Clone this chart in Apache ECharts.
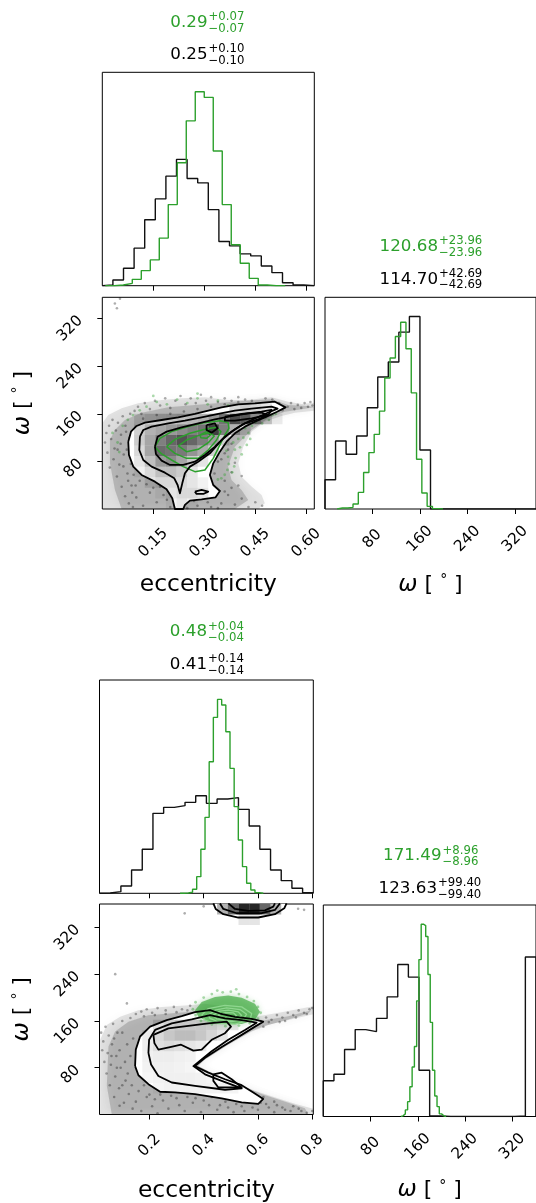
<!DOCTYPE html>
<html><head><meta charset="utf-8">
<script src="https://cdn.jsdelivr.net/npm/echarts@6/dist/echarts.min.js"></script>
<style>html,body{margin:0;padding:0;background:#fff}#c{width:536px;height:1203px}</style>
</head><body><div id="c"></div>
<script>
// ================= DATA =================
const GREEN = '#2ca02c';
// tick labels
const eccTicksTop = [0.15, 0.30, 0.45, 0.60];
const eccTicksBot = [0.2, 0.4, 0.6, 0.8];
const omegaTicks = [80, 160, 240, 320];
// axis ranges
const topEccRange = [0, 0.6235];
const topOmRange = [0.6, 355.3];
const botEccRange = [0.016, 0.804];
const botOmRange = [0, 360];
// titles [median, plus, minus]
const tTopEccG = ['0.29', '+0.07', '\u22120.07'];
const tTopEccK = ['0.25', '+0.10', '\u22120.10'];
const tTopOmG = ['120.68', '+23.96', '\u221223.96'];
const tTopOmK = ['114.70', '+42.69', '\u221242.69'];
const tBotEccG = ['0.48', '+0.04', '\u22120.04'];
const tBotEccK = ['0.41', '+0.14', '\u22120.14'];
const tBotOmG = ['171.49', '+8.96', '\u22128.96'];
const tBotOmK = ['123.63', '+99.40', '\u221299.40'];

// 1D histograms: [range], counts
const hTopEccKRange = [0, 0.6235];
const hTopEccK = [2, 17, 52, 112, 197, 259, 327, 377, 320, 307, 227, 132, 119, 95, 89, 59, 39, 9, 2, 0];
const hTopEccGRange = [0.0088, 0.538];
const hTopEccG = [0, 2, 7, 19, 45, 77, 142, 242, 367, 492, 579, 562, 402, 242, 122, 67, 22, 2, 0, 0];
const hTopOmKRange = [0.6, 355.3];
const hTopOmK = [88, 205, 165, 220, 305, 398, 443, 533, 580, 178, 0, 0, 0, 0, 0, 0, 0, 0, 0, 0];
const hTopOmGRange = [21.0, 199.0];
const hTopOmG = [3, 3, 5, 15, 50, 110, 170, 225, 295, 395, 455, 520, 563, 483, 350, 150, 48, 8, 1, 0];
const hBotEccKRange = [0.016, 0.804];
const hBotEccK = [1, 5, 22, 70, 132, 240, 258, 263, 273, 293, 270, 283, 287, 252, 202, 132, 70, 38, 15, 2];
const hBotEccGRange = [0.3129, 0.6197];
const hBotEccG = [0, 1, 3, 12, 50, 132, 228, 395, 528, 582, 565, 485, 375, 260, 160, 80, 30, 10, 2, 0];
const hBotOmKRange = [0, 360];
const hBotOmK = [108, 128, 203, 263, 257, 297, 362, 460, 422, 140, 2, 0, 0, 0, 0, 0, 0, 0, 2, 483];
const hBotOmGRange = [131.2, 207.8];
const hBotOmG = [2, 8, 20, 45, 90, 150, 212, 350, 475, 582, 578, 545, 430, 285, 140, 62, 30, 8, 2, 0];

// ---- top 2D panel (eccentricity, omega) ----
const topC1 = [[0.0764,113.4],[0.0843,130.2],[0.1009,139.7],[0.1254,145.3],[0.1744,149.7],[0.2234,154.2],[0.2724,159.8],[0.3116,165.4],[0.3508,170.9],[0.3998,176.0],[0.4488,177.6],[0.5076,180.4],[0.539,170.9],[0.5125,163.1],[0.4831,155.3],[0.4488,146.9],[0.4194,138.6],[0.390,127.4],[0.3655,113.4],[0.3459,96.7],[0.3263,77.1],[0.3165,57.6],[0.3263,40.8],[0.3459,30.8],[0.3332,20.2],[0.292,16.9],[0.2577,14.6],[0.243,7.4],[0.238,0.6],[0.2136,0.6],[0.2058,18.5],[0.189,33.6],[0.1548,46.4],[0.1156,57.6],[0.0911,71.6],[0.0784,91.1]];
const topC2 = [[0.1107,121.8],[0.1205,133.0],[0.145,138.6],[0.194,144.1],[0.243,148.6],[0.292,154.2],[0.341,159.8],[0.390,165.4],[0.439,168.7],[0.498,172.1],[0.5155,168.7],[0.478,159.8],[0.439,149.7],[0.410,141.3],[0.380,130.2],[0.351,116.2],[0.3165,93.9],[0.282,79.9],[0.2577,71.6],[0.243,60.4],[0.2352,43.6],[0.2283,26.9],[0.2215,40.8],[0.2117,52.0],[0.1842,61.5],[0.145,71.6],[0.1205,82.7],[0.1088,99.5]];
const topC3 = [[0.1548,105.1],[0.1627,121.8],[0.1891,130.2],[0.2332,137.5],[0.2822,144.1],[0.3312,150.8],[0.380,156.4],[0.429,160.9],[0.468,162.0],[0.488,158.1],[0.4586,150.8],[0.4194,144.1],[0.390,134.1],[0.3606,121.8],[0.3312,105.1],[0.3018,91.1],[0.2724,79.9],[0.238,74.4],[0.199,74.4],[0.1744,81.6],[0.1577,92.8]];
const topC4a = [[0.3606,155.3],[0.410,159.8],[0.468,163.7],[0.4978,166.5],[0.488,158.1],[0.439,152.5],[0.390,148.6],[0.3606,148.6]];
const topC4b = [[0.3067,141.3],[0.3312,144.1],[0.3391,135.8],[0.3214,128.5],[0.3067,133.0]];
const topC4c = [[0.2724,29.7],[0.292,32.5],[0.3116,29.7],[0.2969,25.8],[0.2773,25.8]];
const topG1 = [[0.1548,105.1],[0.1695,119.0],[0.2038,130.2],[0.2528,138.6],[0.3018,145.3],[0.3459,148.6],[0.370,145.3],[0.3724,135.8],[0.3606,124.6],[0.3459,107.9],[0.3263,85.5],[0.3018,66.0],[0.2724,63.2],[0.238,71.6],[0.2038,82.7],[0.1744,92.8]];
const topG2 = [[0.1891,105.1],[0.2136,117.3],[0.2577,127.4],[0.3018,134.1],[0.3361,137.5],[0.3489,130.2],[0.3361,116.2],[0.3116,99.5],[0.2822,85.5],[0.2479,85.5],[0.2136,93.9]];
const topG3 = [[0.2234,106.2],[0.2479,116.2],[0.2822,123.5],[0.3165,128.5],[0.3293,122.9],[0.3116,111.8],[0.2822,100.6],[0.2479,96.7]];
const topG4 = [[0.2871,124.6],[0.3067,130.2],[0.3214,126.3],[0.3067,119.0],[0.2900,120.1]];
// envelope of the black sample cloud (outer, dense core)
const topCloudOuter = [[0.0,144.1],[0.0176,158.1],[0.0568,169.3],[0.1058,177.6],[0.1744,183.2],[0.2332,186.0],[0.3018,187.7],[0.370,183.2],[0.429,183.2],[0.4978,187.7],[0.5468,180.4],[0.586,176.5],[0.6235,178.7],[0.6235,165.4],[0.5664,162.0],[0.5272,156.4],[0.478,146.9],[0.439,130.2],[0.4145,105.1],[0.400,77.1],[0.4096,54.8],[0.439,38.1],[0.4684,24.1],[0.478,10.1],[0.4586,0.6],[0.0,0.6]];
const topCloudInner = [[0.0225,116.2],[0.0372,133.0],[0.0666,149.7],[0.1156,162.0],[0.194,170.9],[0.2724,174.8],[0.3508,178.8],[0.4194,182.1],[0.4978,184.3],[0.5468,174.8],[0.6056,173.2],[0.6235,170.9],[0.586,167.6],[0.537,163.7],[0.488,152.5],[0.439,133.0],[0.390,105.1],[0.370,71.6],[0.3802,49.2],[0.4096,32.5],[0.4292,15.7],[0.390,0.6],[0.0568,0.6],[0.0372,32.5],[0.0225,77.1]];
const topPtsK = [[0.008,112],[0.012,128],[0.015,95],[0.02,140],[0.022,70],[0.026,118],[0.03,150],[0.033,84],[0.036,102],[0.04,132],[0.043,55],[0.046,145],[0.05,75],[0.054,110],[0.057,38],[0.06,156],[0.063,92],[0.067,22],[0.07,130],[0.074,60],[0.078,10],[0.082,160],[0.086,40],[0.09,4],[0.095,165],[0.105,172],[0.115,160],[0.125,178],[0.14,168],[0.155,182],[0.17,174],[0.185,186],[0.2,170],[0.215,182],[0.23,190],[0.245,176],[0.26,186],[0.275,178],[0.29,192],[0.305,182],[0.32,188],[0.34,180],[0.36,186],[0.38,182],[0.4,188],[0.42,184],[0.5,184],[0.52,178],[0.545,172],[0.555,178],[0.565,168],[0.575,175],[0.585,170],[0.595,178],[0.605,172],[0.612,180],[0.618,174],[0.53,166],[0.1,20],[0.12,6],[0.14,28],[0.16,12],[0.18,24],[0.2,4],[0.26,28],[0.28,6],[0.3,22],[0.32,4],[0.35,10],[0.37,24],[0.39,8],[0.41,18],[0.43,4],[0.45,12],[0.47,6],[0.36,48],[0.38,62],[0.35,84],[0.37,100],[0.39,78],[0.41,56],[0.4,40],[0.037,345],[0.052,353],[0.043,337],
[0.045,100],[0.055,125],[0.062,72],[0.068,140],[0.072,100],[0.076,48],[0.08,120],[0.084,76],[0.088,28],[0.092,58],[0.098,40],[0.11,48],[0.13,42],[0.15,36],[0.17,38],[0.19,16],[0.21,30],[0.22,10],[0.24,22],[0.25,2],[0.27,14],[0.29,30],[0.31,12],[0.33,26],[0.34,2],[0.36,30],[0.38,36],[0.12,152],[0.16,158],[0.2,160],[0.24,164],[0.28,168],[0.32,172],[0.36,176],[0.4,180],[0.44,182],[0.48,186],[0.33,60],[0.34,80],[0.36,94],[0.38,110]];
const topPtsG = [[0.352,120],[0.36,110],[0.365,98],[0.37,88],[0.372,76],[0.368,66],[0.36,58],[0.35,52],[0.34,50],[0.38,124],[0.385,112],[0.39,100],[0.392,86],[0.388,72],[0.382,62],[0.395,130],[0.4,118],[0.405,104],[0.41,92],[0.415,120],[0.42,136],[0.43,128],[0.44,140],[0.45,146],[0.46,150],[0.47,144],[0.48,154],[0.49,150],[0.5,158],[0.51,160],[0.425,108],[0.435,118],[0.03,128],[0.045,112],[0.06,140],[0.075,150],[0.09,158],[0.05,96],[0.11,166],[0.13,172],[0.16,180],[0.19,176],[0.22,184],[0.25,178],[0.28,186],[0.31,176],[0.34,182],[0.37,174],[0.39,168],[0.15,190],[0.28,194]];
// 2D histogram shading: [xBin, yBin, darkness]
const topDens = [[12,9,0.15],[13,9,0.2],[14,9,0.15],[15,9,0.1],
[3,8,0.12],[4,8,0.18],[5,8,0.2],[6,8,0.22],[7,8,0.25],[8,8,0.28],[9,8,0.3],[10,8,0.4],[11,8,0.55],[12,8,0.7],[13,8,0.65],[14,8,0.45],[15,8,0.25],[16,8,0.08],
[3,7,0.18],[4,7,0.3],[5,7,0.35],[6,7,0.4],[7,7,0.45],[8,7,0.5],[9,7,0.55],[10,7,0.75],[11,7,0.5],[12,7,0.3],[13,7,0.12],
[3,6,0.2],[4,6,0.35],[5,6,0.5],[6,6,0.6],[7,6,0.68],[8,6,0.6],[9,6,0.5],[10,6,0.38],[11,6,0.18],
[3,5,0.15],[4,5,0.35],[5,5,0.58],[6,5,0.55],[7,5,0.52],[8,5,0.42],[9,5,0.32],[10,5,0.18],
[3,4,0.1],[4,4,0.25],[5,4,0.4],[6,4,0.45],[7,4,0.35],[8,4,0.2],[9,4,0.1],
[3,3,0.06],[4,3,0.15],[5,3,0.25],[6,3,0.25],[7,3,0.2],[8,3,0.1],
[4,2,0.1],[5,2,0.15],[6,2,0.15],[7,2,0.15],[8,2,0.1],[9,2,0.05],
[5,1,0.05],[6,1,0.1],[7,1,0.15],[8,1,0.15],[9,1,0.1],
[6,0,0.05],[7,0,0.1],[8,0,0.05]];

// ---- bottom 2D panel ----
const botC1 = [[0.1472,82.8],[0.1497,110.9],[0.1656,133.4],[0.2025,150.3],[0.2638,161.5],[0.319,168.2],[0.368,175.0],[0.4233,178.4],[0.4601,172.7],[0.5153,167.1],[0.5767,163.7],[0.6196,158.7],[0.589,150.3],[0.540,136.2],[0.4663,115.4],[0.405,96.9],[0.368,82.8],[0.4172,71.6],[0.4785,60.3],[0.540,50.2],[0.5828,37.8],[0.6196,26.6],[0.6012,18.2],[0.540,20.9],[0.4663,27.7],[0.368,35.0],[0.2945,37.8],[0.2393,38.9],[0.1963,51.9],[0.1595,67.1]];
const botC2 = [[0.1963,105.3],[0.1988,127.8],[0.2209,144.6],[0.2822,155.9],[0.3558,162.6],[0.4233,169.9],[0.4785,164.3],[0.540,161.5],[0.5951,157.0],[0.5522,144.6],[0.4908,127.8],[0.4295,108.1],[0.362,82.8],[0.4049,68.7],[0.4663,57.5],[0.540,44.6],[0.4785,42.3],[0.368,49.1],[0.2822,54.7],[0.2331,65.9],[0.2061,85.6]];
const botC3a = [[0.2147,136.2],[0.2699,147.4],[0.3436,151.4],[0.4172,155.9],[0.4847,158.7],[0.5006,150.3],[0.4785,139.0],[0.4295,127.8],[0.3926,110.9],[0.362,109.2],[0.3166,119.3],[0.2761,115.4],[0.2331,110.9],[0.2184,122.1]];
const botC3b = [[0.4356,68.7],[0.4663,71.6],[0.5031,60.3],[0.540,46.3],[0.454,46.3],[0.4356,57.5]];
// contours of the wrapped mode at the top edge (open, cut by the frame)
const botTopC1 = [[0.4356,361],[0.4442,351.5],[0.4724,342.5],[0.5276,336.9],[0.6012,336.9],[0.6626,342.5],[0.697,352.6],[0.7055,361]];
const botTopC2 = [[0.4601,361],[0.4724,351.5],[0.5215,344.2],[0.6135,344.2],[0.6626,349.8],[0.681,361]];
const botTopC3 = [[0.4908,361],[0.5153,351.5],[0.5644,348.1],[0.6258,349.2],[0.6564,355.4],[0.6626,361]];
const botG1 = [[0.3926,169.9],[0.4172,181.2],[0.4785,186.8],[0.540,184.0],[0.5767,172.7],[0.5706,161.5],[0.5153,154.7],[0.4417,155.9],[0.4049,161.5]];
const botG2 = [[0.4172,169.9],[0.4417,178.4],[0.4847,182.3],[0.5337,179.5],[0.5583,171.6],[0.546,162.6],[0.5031,158.7],[0.4479,159.8],[0.4233,164.3]];
const botG3 = [[0.4356,169.9],[0.4601,176.7],[0.4908,178.4],[0.5276,175.6],[0.5399,169.4],[0.5215,162.6],[0.4847,160.9],[0.4479,163.7]];
const botG4 = [[0.454,169.9],[0.4785,174.4],[0.5092,173.9],[0.5215,168.8],[0.5031,164.3],[0.4724,164.9]];
const botGreenCloud = [[0.368,178.4],[0.3926,192.4],[0.4417,200.8],[0.4908,203.6],[0.540,199.7],[0.589,189.6],[0.6074,175.6],[0.589,161.5],[0.540,154.7],[0.4785,154.7],[0.4172,158.7],[0.3804,167.1]];
const botCloudOuter = [[0.0184,127.8],[0.0429,153.1],[0.092,167.1],[0.1595,178.4],[0.2454,184.0],[0.3436,186.8],[0.405,189.6],[0.4908,184.0],[0.6012,168.2],[0.6871,175.0],[0.7607,181.2],[0.8037,185.1],[0.8037,171.6],[0.7362,164.3],[0.6626,155.9],[0.6196,151.4],[0.5767,143.5],[0.5153,127.8],[0.4417,105.3],[0.368,82.8],[0.4295,68.7],[0.5153,54.7],[0.589,40.6],[0.6503,31.1],[0.7362,18.2],[0.8037,9.7],[0.8037,0],[0.0184,0]];
const botCloudInner = [[0.0491,116.5],[0.0736,141.8],[0.1227,158.7],[0.1963,169.9],[0.3068,173.9],[0.405,177.3],[0.5153,169.9],[0.6135,160.4],[0.7117,168.2],[0.7976,178.4],[0.7853,172.7],[0.7117,162.6],[0.638,153.1],[0.5767,141.8],[0.4908,119.3],[0.405,94.0],[0.3804,82.8],[0.454,65.9],[0.540,49.1],[0.6135,35.0],[0.6871,23.8],[0.773,10.8],[0.7853,0],[0.0614,0],[0.0429,49.1]];
const botPtsK = [[0.022,140],[0.026,110],[0.03,125],[0.034,90],[0.038,150],[0.042,70],[0.046,105],[0.05,135],[0.054,50],[0.058,85],[0.062,120],[0.066,155],[0.07,30],[0.074,65],[0.078,100],[0.082,140],[0.088,45],[0.094,80],[0.1,160],[0.106,20],[0.112,58],[0.118,120],[0.124,35],[0.13,165],[0.138,10],[0.15,172],[0.17,176],[0.19,180],[0.21,174],[0.23,182],[0.26,178],[0.29,184],[0.32,180],[0.35,186],[0.15,22],[0.17,6],[0.19,30],[0.21,14],[0.23,2],[0.25,24],[0.27,10],[0.3,28],[0.33,6],[0.36,20],[0.39,4],[0.42,16],[0.45,8],[0.48,22],[0.51,4],[0.54,14],[0.57,24],[0.6,8],[0.63,18],[0.66,4],[0.69,12],[0.72,6],[0.75,10],[0.78,3],[0.8,6],[0.62,30],[0.66,22],[0.61,160],[0.63,166],[0.65,162],[0.67,170],[0.69,166],[0.71,174],[0.73,170],[0.75,178],[0.77,174],[0.79,180],[0.8,182],[0.68,158],[0.074,240],[0.117,190],[0.33,344],[0.4,356],[0.748,352],[0.77,350],
[0.06,100],[0.07,130],[0.08,80],[0.09,110],[0.1,140],[0.11,90],[0.12,70],[0.13,100],[0.135,50],[0.14,130],[0.1,50],[0.09,15],[0.16,40],[0.18,50],[0.2,34],[0.22,26],[0.24,34],[0.28,32],[0.31,16],[0.34,30],[0.37,28],[0.4,24],[0.43,30],[0.46,16],[0.49,12],[0.52,18],[0.55,6],[0.58,12],[0.61,20],[0.64,12],[0.67,16],[0.7,8],[0.73,14],[0.76,6],[0.62,150],[0.64,158],[0.7,160],[0.74,166],[0.78,172],[0.18,168],[0.22,170],[0.26,172],[0.3,175],[0.34,178]];
const botPtsG = [[0.36,180],[0.37,192],[0.4,200],[0.43,206],[0.47,209],[0.5,210],[0.53,206],[0.56,201],[0.585,194],[0.6,184],[0.61,174],[0.6,164],[0.57,156],[0.53,152],[0.48,151],[0.43,154],[0.39,160],[0.37,170],[0.45,212],[0.52,214]];
const botDens = [[5,8,0.12],[6,8,0.18],[7,8,0.22],[8,8,0.22],[9,8,0.22],[10,8,0.2],[11,8,0.15],[12,8,0.1],
[4,7,0.08],[5,7,0.15],[6,7,0.22],[7,7,0.26],[8,7,0.26],[9,7,0.22],[10,7,0.16],[11,7,0.1],
[4,6,0.07],[5,6,0.12],[6,6,0.14],[7,6,0.12],[8,6,0.1],[9,6,0.08],
[4,5,0.06],[5,5,0.07],[6,5,0.07],[7,5,0.06],[8,5,0.05],
[4,4,0.05],[5,4,0.06],[6,4,0.06],[7,4,0.05],[8,4,0.04],
[4,3,0.04],[5,3,0.05],[6,3,0.06],[7,3,0.06],[8,3,0.06],[9,3,0.05],[10,3,0.04],
[5,2,0.04],[6,2,0.05],[7,2,0.05],[8,2,0.05],[9,2,0.05],[10,2,0.05],[11,2,0.05],[12,2,0.04],
[11,19,0.3],[12,19,0.6],[13,19,0.85],[14,19,0.85],[15,19,0.6],[16,19,0.3],[13,18,0.1],[14,18,0.1]];

// ================= BUILD =================
const FONT = 'DejaVu Sans';
const TICKFONT = 15.3;
const grids = [
  {left:102.3, top:72.3, width:212, height:213.4},
  {left:102.3, top:297.3, width:212, height:211.7},
  {left:325, top:297.3, width:212, height:211.7},
  {left:99.5, top:680, width:213.8, height:213.3},
  {left:99.5, top:904, width:213.8, height:212.7},
  {left:323.3, top:905, width:213.3, height:211.7}
].map(g => Object.assign({show:true, borderColor:'#000', borderWidth:1, backgroundColor:'transparent'}, g));

const tick = vals => ({show:true, customValues:vals, length:5, inside:false, lineStyle:{color:'#000', width:1}});
const xlab = (vals, dec, margin) => ({show:true, customValues:vals, rotate:45, align:'center', verticalAlign:'middle', margin, fontSize:TICKFONT, color:'#000', fontFamily:FONT, formatter:v => dec >= 0 ? Number(v).toFixed(dec) : String(v)});
const ylab = vals => ({show:true, customValues:vals, rotate:45, align:'right', verticalAlign:'middle', margin:22, fontSize:TICKFONT, color:'#000', fontFamily:FONT, formatter:v => String(v)});
const base = (gi, r) => ({type:'value', gridIndex:gi, min:r[0], max:r[1], axisLine:{show:false}, splitLine:{show:false}, axisTick:{show:false}, axisLabel:{show:false}});
const omegaName = '{w|\u03c9} [ {d|\u00b0} ]';
const omegaNameStyle = {fontSize:22, color:'#000', fontFamily:FONT, verticalAlign:'middle', rich:{w:{fontSize:23, fontStyle:'italic', fontFamily:FONT, color:'#000'}, d:{fontSize:14, fontFamily:FONT, color:'#000', verticalAlign:'top', padding:[0,0,8,0]}}};
const eccNameStyle = {fontSize:23.4, color:'#000', fontFamily:FONT, verticalAlign:'middle'};
const hmax = (a, b) => 1.1 * Math.max(...a, ...b);

const xAxis = [
  Object.assign(base(0, topEccRange), {axisTick:tick(eccTicksTop)}),
  Object.assign(base(1, topEccRange), {axisTick:tick(eccTicksTop), axisLabel:xlab(eccTicksTop, 2, 34), name:'eccentricity', nameLocation:'middle', nameGap:76, nameTextStyle:eccNameStyle}),
  Object.assign(base(2, topOmRange), {axisTick:tick(omegaTicks), axisLabel:xlab(omegaTicks, -1, 30), name:omegaName, nameLocation:'middle', nameGap:76, nameTextStyle:omegaNameStyle}),
  Object.assign(base(3, botEccRange), {axisTick:tick(eccTicksBot)}),
  Object.assign(base(4, botEccRange), {axisTick:tick(eccTicksBot), axisLabel:xlab(eccTicksBot, 1, 31), name:'eccentricity', nameLocation:'middle', nameGap:76, nameTextStyle:eccNameStyle}),
  Object.assign(base(5, botOmRange), {axisTick:tick(omegaTicks), axisLabel:xlab(omegaTicks, -1, 30), name:omegaName, nameLocation:'middle', nameGap:74, nameTextStyle:omegaNameStyle})
];
const yAxis = [
  base(0, [0, hmax(hTopEccK, hTopEccG)]),
  Object.assign(base(1, topOmRange), {axisTick:tick(omegaTicks), axisLabel:ylab(omegaTicks), name:omegaName, nameLocation:'middle', nameRotate:90, nameGap:79, nameTextStyle:omegaNameStyle}),
  base(2, [0, hmax(hTopOmK, hTopOmG)]),
  base(3, [0, hmax(hBotEccK, hBotEccG)]),
  Object.assign(base(4, botOmRange), {axisTick:tick(omegaTicks), axisLabel:ylab(omegaTicks), name:omegaName, nameLocation:'middle', nameRotate:90, nameGap:77, nameTextStyle:omegaNameStyle}),
  base(5, [0, hmax(hBotOmK, hBotOmG)])
];

const series = [];
function hist(gi, range, counts, color, z) {
  const n = counts.length, w = (range[1] - range[0]) / n;
  const d = [[range[0], 0]];
  counts.forEach((c, i) => { d.push([range[0] + i * w, c]); d.push([range[0] + (i + 1) * w, c]); });
  d.push([range[1], 0]);
  series.push({type:'line', xAxisIndex:gi, yAxisIndex:gi, data:d, showSymbol:false, symbol:'none', z, silent:true,
    lineStyle:{color, width:1.4}});
}
function contour(gi, pts, color, width, z, closed) {
  const d = closed === false ? pts.slice() : pts.concat([pts[0]]);
  series.push({type:'line', xAxisIndex:gi, yAxisIndex:gi, data:d, showSymbol:false, symbol:'none', z, silent:true,
    lineStyle:{color, width, join:'round'}});
}
function poly(gi, pts, style, z) {
  series.push({type:'custom', xAxisIndex:gi, yAxisIndex:gi, z, clip:true, silent:true, data:[pts[0]],
    renderItem:(p, api) => ({type:'polygon', shape:{points:pts.map(q => api.coord(q))}, style})});
}
function dens(gi, cells, xr, yr, z) {
  const dx = (xr[1] - xr[0]) / 20, dy = (yr[1] - yr[0]) / 20;
  series.push({type:'custom', xAxisIndex:gi, yAxisIndex:gi, z, clip:true, silent:true,
    data:cells.map(c => [xr[0] + (c[0] + 0.5) * dx, yr[0] + (c[1] + 0.5) * dy, c[2]]),
    renderItem:(p, api) => {
      const x = api.value(0), y = api.value(1), v = api.value(2);
      const a = api.coord([x - dx / 2, y + dy / 2]), b = api.coord([x + dx / 2, y - dy / 2]);
      return {type:'rect', shape:{x:a[0], y:a[1], width:b[0] - a[0], height:b[1] - a[1]}, style:{fill:'rgba(0,0,0,' + v + ')'}};
    }});
}
function pts(gi, data, color, size, z) {
  series.push({type:'scatter', xAxisIndex:gi, yAxisIndex:gi, data, symbolSize:size, z, silent:true, itemStyle:{color}});
}

// histograms
hist(0, hTopEccKRange, hTopEccK, '#111', 3);
hist(0, hTopEccGRange, hTopEccG, GREEN, 4);
hist(2, hTopOmKRange, hTopOmK, '#111', 3);
hist(2, hTopOmGRange, hTopOmG, GREEN, 4);
hist(3, hBotEccKRange, hBotEccK, '#111', 3);
hist(3, hBotEccGRange, hBotEccG, GREEN, 4);
hist(5, hBotOmKRange, hBotOmK, '#111', 3);
hist(5, hBotOmGRange, hBotOmG, GREEN, 4);

// top 2D
const cloudStyleO = {fill:'rgba(50,50,50,0.13)', shadowBlur:10, shadowColor:'rgba(50,50,50,0.25)'};
const cloudStyleI = {fill:'rgba(40,40,40,0.2)', shadowBlur:8, shadowColor:'rgba(40,40,40,0.25)'};
poly(1, topCloudOuter, cloudStyleO, 1);
poly(1, topCloudInner, cloudStyleI, 1);
pts(1, topPtsK, 'rgba(0,0,0,0.4)', 2.6, 2);
pts(1, topPtsG, 'rgba(44,160,44,0.5)', 2.8, 2);
poly(1, topC1, {fill:'#fff'}, 3);
dens(1, topDens, topEccRange, topOmRange, 4);
[topG1, topG2, topG3, topG4].forEach(c => contour(1, c, GREEN, 1.5, 5));
[topC1, topC2, topC3, topC4a, topC4b, topC4c].forEach(c => contour(1, c, '#000', 1.8, 6));

// bottom 2D
poly(4, botCloudOuter, cloudStyleO, 1);
poly(4, botCloudInner, cloudStyleI, 1);
pts(4, botPtsK, 'rgba(0,0,0,0.4)', 2.6, 2);
poly(4, botC1, {fill:'#fff'}, 3);
poly(4, botTopC1, {fill:'#fff'}, 3);
dens(4, botDens, botEccRange, botOmRange, 4);
poly(4, botGreenCloud, {fill:'rgba(44,160,44,0.6)', shadowBlur:6, shadowColor:'rgba(44,160,44,0.5)'}, 5);
pts(4, botPtsG, 'rgba(44,160,44,0.5)', 2.8, 5);
[botG1, botG2, botG3, botG4].forEach(c => contour(4, c, '#8fd68f', 1.3, 6));
[botC1, botC2, botC3a, botC3b].forEach(c => contour(4, c, '#000', 1.8, 7));
[botTopC1, botTopC2, botTopC3].forEach(c => contour(4, c, '#000', 1.8, 7, false));

// titles
const graphic = [];
function title(t, ax, cy, color) {
  graphic.push({type:'text', x:ax, y:cy, style:{text:t[0], fill:color, font:'16.7px "DejaVu Sans"', align:'right', verticalAlign:'middle'}});
  graphic.push({type:'text', x:ax + 1, y:cy - 5.5, style:{text:t[1], fill:color, font:'11.7px "DejaVu Sans"', align:'left', verticalAlign:'middle'}});
  graphic.push({type:'text', x:ax + 1, y:cy + 6, style:{text:t[2], fill:color, font:'11.7px "DejaVu Sans"', align:'left', verticalAlign:'middle'}});
}
title(tTopEccG, 207.5, 22.5, GREEN);
title(tTopEccK, 207.5, 54.5, '#000');
title(tTopOmG, 438, 246.5, GREEN);
title(tTopOmK, 438, 279.3, '#000');
title(tBotEccG, 207, 632, GREEN);
title(tBotEccK, 207, 664.8, '#000');
title(tBotOmG, 441.5, 856, GREEN);
title(tBotOmK, 437, 888.6, '#000');

const chart = echarts.init(document.getElementById('c'), null, {renderer:'canvas'});
chart.setOption({animation:false, backgroundColor:'#fff', grid:grids, xAxis, yAxis, series, graphic});
</script>
</body></html>
